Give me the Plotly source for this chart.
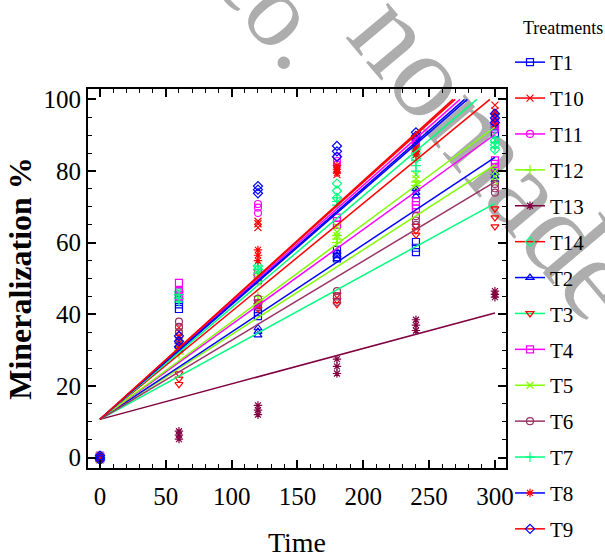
import plotly.graph_objects as go

# Sampling times (days) and treatment names as listed in the legend
times = [0, 60, 120, 180, 240, 300]
treatments = ["T1", "T10", "T11", "T12", "T13", "T14", "T2",
              "T3", "T4", "T5", "T6", "T7", "T8", "T9"]

# Replicate mineralization readings (%), one inner list per sampling time
T1 = [[-0.4, 0.1, 0.5], [41.5, 42.8, 44.0], [39.5, 40.6, 41.5], [55.6, 56.8, 58.0], [57.4, 58.6, 60.2], [90.5, 91.8, 93.0]]
T10 = [[-0.5, 0.0, 0.4], [34.0, 35.2, 36.3], [64.2, 65.3, 66.0], [79.0, 80.2, 81.3], [85.5, 86.8, 88.0], [95.2, 96.8, 98.4]]
T11 = [[-0.3, 0.2, 0.6], [44.8, 45.6, 46.3], [68.3, 69.8, 70.8], [81.8, 82.8, 84.0], [86.5, 87.5, 88.5], [91.5, 92.8, 94.0]]
T12 = [[-0.4, 0.1, 0.5], [29.0, 30.0, 31.0], [43.0, 44.0, 45.0], [60.0, 61.0, 62.0], [75.0, 76.0, 77.0], [79.0, 80.0, 81.0]]
T13 = [[-0.5, 0.0, 0.5], [5.2, 6.3, 7.4], [12.0, 13.3, 14.6], [23.5, 25.5, 27.5], [35.5, 37.0, 38.5], [44.8, 45.6, 46.5]]
T14 = [[-0.3, 0.1, 0.4], [44.5, 45.5, 46.3], [51.0, 52.5, 53.5], [72.5, 74.5, 76.5], [83.5, 85.0, 86.0], [86.0, 87.3, 88.5]]
T2 = [[-0.6, -0.1, 0.4], [30.0, 31.2, 32.4], [34.2, 35.2, 36.2], [55.5, 56.5, 57.5], [73.0, 74.0, 75.0], [77.5, 78.5, 79.5]]
T3 = [[-0.4, 0.2, 0.6], [20.5, 22.0, 23.5], [41.5, 42.5, 43.5], [42.8, 44.0, 45.5], [62.2, 63.4, 64.6], [64.5, 67.0, 69.5]]
T4 = [[-0.3, 0.1, 0.5], [45.0, 46.5, 48.8], [49.5, 50.5, 51.5], [65.0, 66.0, 67.0], [69.5, 70.5, 71.5], [81.0, 82.0, 83.0]]
T5 = [[-0.5, 0.0, 0.5], [31.5, 32.5, 33.5], [49.0, 50.0, 51.0], [62.0, 63.0, 64.5], [76.5, 77.8, 79.0], [77.0, 78.5, 80.0]]
T6 = [[-0.4, 0.0, 0.4], [35.0, 36.5, 38.0], [42.0, 43.2, 44.4], [43.5, 45.0, 46.5], [65.0, 66.2, 67.4], [74.0, 75.2, 76.4]]
T7 = [[-0.3, 0.2, 0.5], [43.5, 44.5, 45.5], [51.5, 52.5, 53.5], [70.5, 71.5, 72.5], [80.0, 81.5, 83.0], [86.5, 88.0, 89.5]]
T8 = [[-0.5, 0.0, 0.5], [30.5, 32.0, 33.5], [55.0, 56.5, 58.0], [79.5, 80.5, 81.5], [84.5, 85.5, 86.5], [93.0, 94.5, 96.0]]
T9 = [[-0.6, 0.0, 0.6], [31.0, 32.5, 34.0], [73.8, 74.8, 75.8], [84.0, 85.5, 87.0], [88.8, 89.8, 90.8], [93.5, 94.8, 96.0]]

readings = [T1, T10, T11, T12, T13, T14, T2, T3, T4, T5, T6, T7, T8, T9]

# Fitted model: common intercept, one slope per treatment
intercept = 10.7
slopes = [0.3200, 0.3330, 0.3266, 0.2367, 0.0990, 0.3015, 0.2437,
          0.2010, 0.2650, 0.2720, 0.2210, 0.3119, 0.3225, 0.3310]
y_cap = 100

# Styling
BLUE, RED, MAG = "#0000FF", "#FF0000", "#FF00FF"
CHART, SPRING = "#7FFF00", "#00FF80"
MAROON, MAUVE = "#800040", "#993366"
line_colors = [BLUE, RED, MAG, CHART, MAROON, RED, BLUE,
               SPRING, MAG, CHART, MAUVE, SPRING, BLUE, RED]
marker_colors = [BLUE, RED, MAG, CHART, MAROON, SPRING, BLUE,
                 RED, MAG, CHART, MAUVE, SPRING, RED, BLUE]
symbols = ["square-open", "x-thin-open", "circle-open", "cross-thin-open",
           "asterisk-open", "diamond-open", "triangle-up-open",
           "triangle-down-open", "square-open", "x-thin-open", "circle-open",
           "cross-thin-open", "asterisk-open", "diamond-open"]

FONT = "Liberation Serif"

fig = go.Figure()

# Watermark behind the chart (centre in page pixels, font size)
for text, cx, cy, size in [("co.", 284, -2, 105), ("nomade", 507, 147, 120)]:
    fig.add_shape(
        type="rect", xref="paper", yref="paper",
        x0=(cx - 88) / 418 - 0.01, x1=(cx - 88) / 418 + 0.01,
        y0=(468 - cy) / 379 - 0.01, y1=(468 - cy) / 379 + 0.01,
        line=dict(width=0), layer="below",
        label=dict(text=text, textangle=50, textposition="middle center",
                   font=dict(family=FONT, size=size, color="#adadad")),
    )

# Replicate observations
for name, vals, mc, sym in zip(treatments, readings, marker_colors, symbols):
    xs, ys = [], []
    for t, reps in zip(times, vals):
        for v in reps:
            xs.append(t)
            ys.append(v)
    fig.add_trace(go.Scatter(
        x=xs, y=ys, mode="markers", showlegend=False, cliponaxis=False,
        marker=dict(symbol=sym, size=7, color=mc, line=dict(width=1.2, color=mc)),
    ))

# Fitted lines, stopped where they reach 100 %
for name, b, lc in zip(treatments, slopes, line_colors):
    x_end = min(times[-1], (y_cap - intercept) / b)
    fig.add_trace(go.Scatter(
        x=[0, x_end], y=[intercept, intercept + b * x_end], mode="lines",
        showlegend=False, line=dict(color=lc, width=1.5),
    ))

# Legend entries (line + symbol)
for name, lc, mc, sym in zip(treatments, line_colors, marker_colors, symbols):
    fig.add_trace(go.Scatter(
        x=[None], y=[None], mode="lines+markers", name=name, legendgroup=name,
        line=dict(color=lc, width=1.5),
        marker=dict(symbol=sym, size=7, color=mc, line=dict(width=1.2, color=mc)),
    ))

axis_common = dict(
    showgrid=False, zeroline=False, showline=True, linewidth=2,
    linecolor="black", mirror="ticks", ticks="inside", ticklen=8,
    tickwidth=1.5, tickcolor="black", automargin=False,
    tickfont=dict(family=FONT, size=25, color="black"),
)

fig.update_xaxes(
    range=[-9.1, 308.4], tick0=0, dtick=50, ticklabelstandoff=5,
    minor=dict(dtick=10, ticks="inside", ticklen=4, tickwidth=1.2, tickcolor="black"),
    title=dict(text="Time", standoff=27,
               font=dict(family=FONT, size=28, color="black")),
    **axis_common,
)
fig.update_yaxes(
    range=[-2.87, 102.9], tick0=0, dtick=20,
    minor=dict(dtick=5, ticks="inside", ticklen=4, tickwidth=1.2, tickcolor="black"),
    title=dict(text="<b>Mineralization %</b>", standoff=2,
               font=dict(family=FONT, size=32, color="black")),
    **axis_common,
)

fig.add_annotation(
    text="Treatments", xref="paper", yref="paper",
    x=(605 - 88) / 418, y=(468 - 28) / 379, xanchor="right", yanchor="middle",
    showarrow=False, font=dict(family=FONT, size=18, color="black"),
)

fig.update_layout(
    width=605, height=558,
    margin=dict(l=88, r=99, t=89, b=90, autoexpand=False),
    paper_bgcolor="white", plot_bgcolor="rgba(0,0,0,0)",
    font=dict(family=FONT, color="black"),
    legend=dict(
        x=(510 - 88) / 418, y=(468 - 42) / 379, xanchor="left", yanchor="top",
        font=dict(family=FONT, size=21, color="black"),
        bgcolor="rgba(0,0,0,0)", traceorder="grouped", tracegroupgap=5.6,
        itemwidth=30, maxheight=1,
    ),
)

fig.write_html("out.html")
